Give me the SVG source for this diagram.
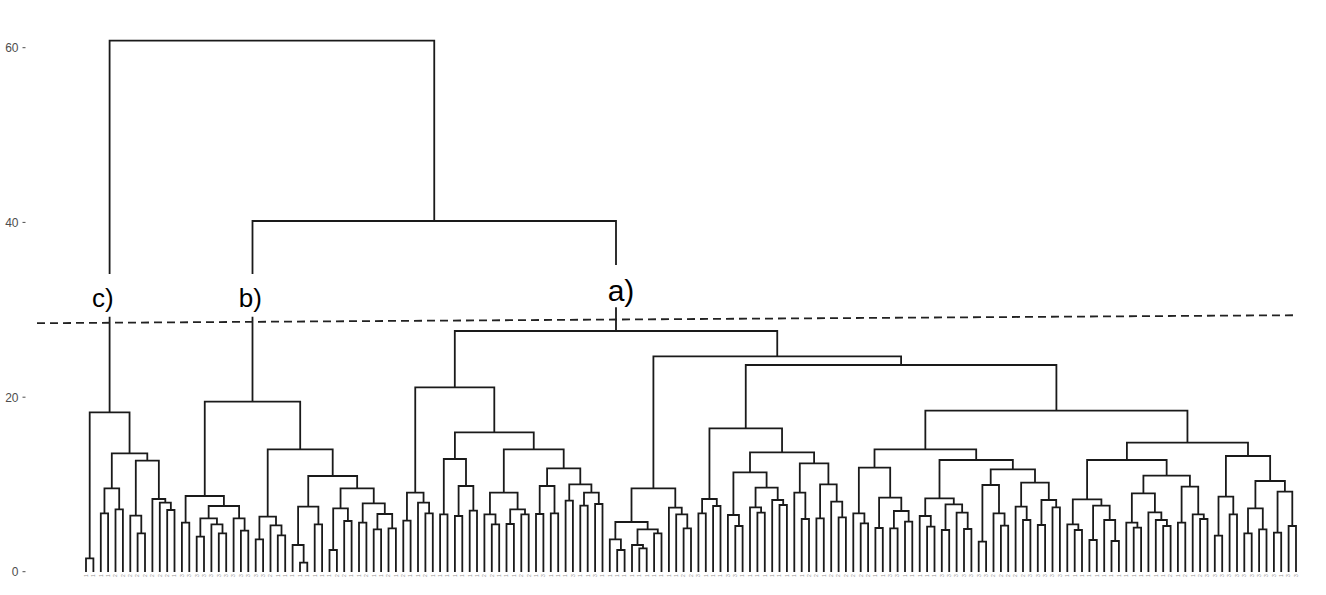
<svg xmlns="http://www.w3.org/2000/svg" width="1326" height="595" viewBox="0 0 1326 595">
<style>
.ln{fill:none;stroke:#1a1a1a;stroke-width:1.8;stroke-linejoin:miter;stroke-linecap:butt}
.ax{font-family:"Liberation Sans",Arial,sans-serif;font-size:12px;fill:#4d4d4d;text-anchor:end}
.tk{stroke:#4d4d4d;stroke-width:1}
.lab{font-family:"Liberation Sans",Arial,sans-serif;fill:#000;text-anchor:middle}
.leaf{font-family:"Liberation Sans",Arial,sans-serif;font-size:5px;fill:#999}
.cut{fill:none;stroke:#222;stroke-width:1.8;stroke-dasharray:8 5}
</style>
<rect width="1326" height="595" fill="#fff"/>
<g id="axis">
<text class="ax" x="18.5" y="52">60</text>
<text class="ax" x="18.5" y="226.7">40</text>
<text class="ax" x="18.5" y="401.5">20</text>
<text class="ax" x="18.5" y="576">0</text>
<path class="tk" d="M22.5 47.7H25.5M22.5 222.4H25.5M22.5 397.2H25.5M22.5 571.7H25.5"/>
</g>
<g id="connectors">
<g id="cluster-c-links">
<path class="ln" d="M86 572V558.3H93.4V572M100.8 572V513.3H108.1V572M115.5 572V509.3H122.9V572M104.45 513.3V488.3H119.2V509.3M137.6 572V533.3H145V572M130.3 572V515.7H141.3V533.3M167.2 572V510H174.5V572M159.8 572V502.7H170.85V510M152.4 572V499H165.3V502.7M135.8 515.7V460.7H158.85V499M111.8 488.3V453.3H147.3V460.7M89.7 558.3V412.3H129.55V453.3M109.6 412.3V316.7"/>
</g>
<g id="cluster-b-links">
<path class="ln" d="M181.9 572V522.7H189.3V572M196.7 572V536.7H204V572M218.8 572V533.3H226.2V572M211.4 572V524.3H222.5V533.3M200.35 536.7V518.3H216.95V524.3M240.9 572V530.7H248.3V572M233.6 572V518.3H244.6V530.7M208.65 518.3V506H239.1V518.3M185.6 522.7V496H223.9V506"/>
<path class="ln" d="M255.7 572V539.3H263.1V572M277.8 572V535.3H285.2V572M270.5 572V525.3H281.5V535.3M259.4 539.3V516.7H276V525.3M300 572V562.7H307.3V572M292.6 572V545H303.65V562.7M314.7 572V524.3H322.1V572M298.1 545V506.7H318.4V524.3M329.5 572V550H336.9V572M344.2 572V521H351.6V572M333.2 550V508.3H347.9V521M359 572V522.7H366.4V572M373.7 572V529.3H381.1V572M388.5 572V528.3H395.9V572M377.4 529.3V514H392.2V528.3M362.7 522.7V503.3H384.8V514M340.55 508.3V488.3H373.75V503.3M308.25 506.7V476H357.15V488.3M267.7 516.7V449.3H332.7V476"/>
<path class="ln" d="M204.75 496V401.7H300.2V449.3M252.5 401.7V316.7"/>
</g>
<g id="cluster-a-links">
<path class="ln" d="M403.3 572V520.7H410.6V572M425.4 572V513.3H432.8V572M418 572V502.7H429.1V513.3M406.95 520.7V492.7H423.55V502.7M440.1 572V514.3H447.5V572M454.9 572V516H462.3V572M469.7 572V510.7H477V572M458.6 516V486H473.35V510.7M443.8 514.3V459H466V486M491.8 572V524.3H499.2V572M484.4 572V514.3H495.5V524.3M506.5 572V524H513.9V572M521.3 572V514.3H528.7V572M510.2 524V509.3H525V514.3M489.95 514.3V492.7H517.6V509.3M536 572V514H543.4V572M550.8 572V513.3H558.2V572M539.7 514V486H554.5V513.3M565.6 572V500.7H572.9V572M580.3 572V505.7H587.7V572M595.1 572V504H602.5V572M584 505.7V492.7H598.8V504M569.25 500.7V484.3H591.4V492.7M547.1 486V468.3H580.3V484.3M503.8 492.7V449.3H563.7V468.3M454.9 459V432.3H533.75V449.3M415.25 492.7V387.3H494.3V432.3"/>
<path class="ln" d="M617.2 572V550H624.6V572M609.8 572V539.3H620.9V550M639.3 572V548.3H646.7V572M632 572V545H643V548.3M654.1 572V533.3H661.5V572M637.5 545V529.3H657.8V533.3M615.35 539.3V522H647.65V529.3M683.6 572V528.3H691V572M676.2 572V514.3H687.3V528.3M668.9 572V507.7H681.75V514.3M631.5 522V488.3H675.3V507.7"/>
<path class="ln" d="M698.4 572V513.3H705.8V572M713.1 572V506H720.5V572M702.1 513.3V499H716.8V506M735.3 572V526H742.6V572M727.9 572V515H738.95V526M757.4 572V512.7H764.8V572M750 572V507.3H761.1V512.7M779.5 572V505H786.9V572M772.2 572V500H783.2V505M755.55 507.3V487.7H777.7V500M733.4 515V472.3H766.6V487.7M801.7 572V519H809V572M794.3 572V492.7H805.35V519M816.4 572V518.3H823.8V572M838.6 572V517.3H845.9V572M831.2 572V501.7H842.25V517.3M820.1 518.3V484.3H836.7V501.7M799.8 492.7V463.3H828.4V484.3M750 472.3V452.3H814.1V463.3M709.45 499V428.3H782.05V452.3"/>
<path class="ln" d="M860.7 572V523.3H868.1V572M853.3 572V513.3H864.4V523.3M875.4 572V528H882.8V572M890.2 572V528.3H897.6V572M905 572V521.7H912.3V572M893.9 528.3V511H908.65V521.7M879.1 528V497.7H901.3V511M858.85 513.3V467.7H890.2V497.7"/>
<path class="ln" d="M927.1 572V526.7H934.5V572M919.7 572V516H930.8V526.7M941.8 572V530H949.2V572M964 572V529H971.4V572M956.6 572V512.7H967.7V529M945.5 530V504.3H962.15V512.7M925.25 516V498.3H953.8V504.3"/>
<path class="ln" d="M978.7 572V541.7H986.1V572M1000.9 572V525.7H1008.2V572M993.5 572V513.3H1004.55V525.7M982.4 541.7V485H999V513.3M1023 572V520H1030.4V572M1015.6 572V506.7H1026.7V520M1037.8 572V525H1045.1V572M1052.5 572V507.3H1059.9V572M1041.45 525V500H1056.2V507.3M1021.15 506.7V482.7H1048.8V500M990.7 485V469.3H1035V482.7M939.5 498.3V460H1012.85V469.3M874.5 467.7V449.3H976.2V460"/>
<path class="ln" d="M1074.7 572V530H1082V572M1067.3 572V524.3H1078.35V530M1089.4 572V540H1096.8V572M1111.5 572V541H1118.9V572M1104.2 572V520H1115.2V541M1093.1 540V505.7H1109.7V520M1072.8 524.3V499.3H1101.4V505.7"/>
<path class="ln" d="M1133.7 572V527.7H1141.1V572M1126.3 572V522.7H1137.4V527.7M1163.2 572V526H1170.6V572M1155.8 572V520H1166.9V526M1148.4 572V512.3H1161.35V520M1131.85 522.7V493.3H1154.9V512.3M1177.9 572V522.7H1185.3V572M1200.1 572V519H1207.5V572M1192.7 572V514.3H1203.8V519M1181.6 522.7V486.7H1198.25V514.3M1143.4 493.3V475.7H1189.9V486.7M1087.1 499.3V460H1166.65V475.7"/>
<path class="ln" d="M1214.8 572V535.7H1222.2V572M1229.6 572V514.3H1237V572M1218.5 535.7V496.7H1233.3V514.3M1244.3 572V533.3H1251.7V572M1259.1 572V529.3H1266.5V572M1248 533.3V508.3H1262.8V529.3M1273.9 572V532.7H1281.2V572M1288.6 572V526H1296V572M1277.55 532.7V491.7H1292.3V526M1255.4 508.3V481H1284.9V491.7M1225.9 496.7V456H1270.15V481M1126.9 460V442.7H1248V456"/>
<path class="ln" d="M925.35 449.3V410.7H1187.45V442.7M745.75 428.3V365H1056.4V410.7M653.4 488.3V356.3H901.1V365M454.8 387.3V331H777.25V356.3M616 331V307.3"/>
</g>
<g id="top-links">
<path class="ln" d="M252.5 274V221H616V265M109.6 274V40.7H434.25V221"/>
</g>
</g>
<path id="cut-line" class="cut" d="M37 323.2L1297 315.2"/>
<g id="label-c"><text class="lab" x="102.9" y="306.5" font-size="26">c)</text></g>
<g id="label-b"><text class="lab" x="250.3" y="306.5" font-size="26">b)</text></g>
<g id="label-a"><text class="lab" x="621" y="301" font-size="30">a)</text></g>
<g id="leaf-labels">
<text class="leaf" y="577" rotate="-90" x="87.8 95.2 102.6 109.9 117.3 124.7 132.1 139.4 146.8 154.2">1111222222</text>
<text class="leaf" y="577" rotate="-90" x="161.6 169.0 176.3 183.7 191.1 198.5 205.8 213.2 220.6 228.0">2213333333</text>
<text class="leaf" y="577" rotate="-90" x="235.4 242.7 250.1 257.5 264.9 272.3 279.6 287.0 294.4 301.8">3333321111</text>
<text class="leaf" y="577" rotate="-90" x="309.1 316.5 323.9 331.3 338.7 346.0 353.4 360.8 368.2 375.5">1111221121</text>
<text class="leaf" y="577" rotate="-90" x="382.9 390.3 397.7 405.1 412.4 419.8 427.2 434.6 441.9 449.3">1212112111</text>
<text class="leaf" y="577" rotate="-90" x="456.7 464.1 471.5 478.8 486.2 493.6 501.0 508.3 515.7 523.1">1111221112</text>
<text class="leaf" y="577" rotate="-90" x="530.5 537.8 545.2 552.6 560.0 567.4 574.7 582.1 589.5 596.9">2131113113</text>
<text class="leaf" y="577" rotate="-90" x="604.3 611.6 619.0 626.4 633.8 641.1 648.5 655.9 663.3 670.7">1111111111</text>
<text class="leaf" y="577" rotate="-90" x="678.0 685.4 692.8 700.2 707.6 714.9 722.3 729.7 737.1 744.4">1223111331</text>
<text class="leaf" y="577" rotate="-90" x="751.8 759.2 766.6 774.0 781.3 788.7 796.1 803.5 810.8 818.2">1111111122</text>
<text class="leaf" y="577" rotate="-90" x="825.6 833.0 840.4 847.7 855.1 862.5 869.9 877.2 884.6 892.0">1222222113</text>
<text class="leaf" y="577" rotate="-90" x="899.4 906.8 914.1 921.5 928.9 936.3 943.6 951.0 958.4 965.8">3111113333</text>
<text class="leaf" y="577" rotate="-90" x="973.2 980.5 987.9 995.3 1002.7 1010.0 1017.4 1024.8 1032.2 1039.6">3332222233</text>
<text class="leaf" y="577" rotate="-90" x="1046.9 1054.3 1061.7 1069.1 1076.5 1083.8 1091.2 1098.6 1106.0 1113.3">3331111111</text>
<text class="leaf" y="577" rotate="-90" x="1120.7 1128.1 1135.5 1142.9 1150.2 1157.6 1165.0 1172.4 1179.7 1187.1">1111111212</text>
<text class="leaf" y="577" rotate="-90" x="1194.5 1201.9 1209.3 1216.6 1224.0 1231.4 1238.8 1246.1 1253.5 1260.9">1233333333</text>
<text class="leaf" y="577" rotate="-90" x="1268.3 1275.7 1283.0 1290.4 1297.8">33133</text>
</g>
</svg>
